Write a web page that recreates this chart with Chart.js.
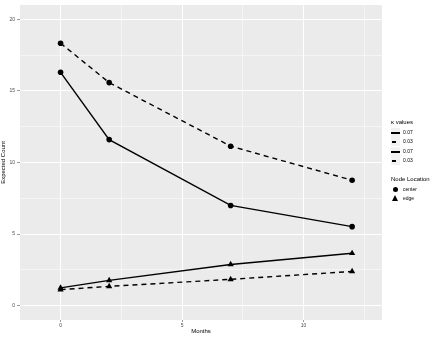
<!DOCTYPE html>
<html>
<head>
<meta charset="utf-8">
<script src="https://cdn.jsdelivr.net/npm/chart.js@4"></script>
<style>
  body { margin: 0; background: #fff; }
  #wrap { position: relative; width: 436px; height: 337px; }
  canvas { display: block; }
  .legend { position: absolute; left: 0; top: 0; width: 436px; height: 337px; font-family: "Liberation Sans", Arial, sans-serif; color: #000; }
  .ltitle { font-size: 6px; position: absolute; white-space: nowrap; }
  .item { position: absolute; font-size: 5px; color: #000; white-space: nowrap; }
  .key { position: absolute; width: 9px; height: 9px; background: #F2F2F2; }
  .key .ln { position: absolute; top: 4px; height: 1.5px; background: #000; }
</style>
</head>
<body>
<div id="wrap">
  <canvas id="chart" width="436" height="337"></canvas>
  <div class="legend" id="legend"></div>
</div>
<script>
// data
const months = [0, 2, 7, 12];
const centerK07 = [16.3, 11.6, 7.0, 5.52];
const centerK03 = [18.33, 15.58, 11.14, 8.76];
const edgeK07 = [1.24, 1.77, 2.88, 3.66];
const edgeK03 = [1.12, 1.35, 1.84, 2.39];
const kLabels = ["0.07", "0.03", "0.07", "0.03"];
const nodeLabels = ["center", "edge"];
const xTicks = [0, 2.5, 5, 7.5, 10, 12.5];
const yTicks = [0, 2.5, 5, 7.5, 10, 12.5, 15, 17.5, 20];

function pts(vals) {
  return vals.map((v, i) => ({ x: months[i], y: v }));
}

function series(vals, dashed, shape) {
  return {
    data: pts(vals),
    borderColor: "#000",
    backgroundColor: "#000",
    borderWidth: 1.4,
    borderDash: dashed ? [5, 4] : [],
    pointStyle: shape,
    pointRadius: shape === "triangle" ? 3.6 : 2.8,
    pointBorderWidth: 0,
    fill: false,
    tension: 0
  };
}

const panelBg = {
  id: "panelBg",
  beforeDraw(chart) {
    const a = chart.chartArea;
    const ctx = chart.ctx;
    ctx.save();
    ctx.fillStyle = "#EBEBEB";
    ctx.fillRect(a.left, a.top, a.right - a.left, a.bottom - a.top);
    ctx.restore();
  }
};

const isMajor = v => Math.abs(v % 5) < 1e-9;

const tickFont = { family: "Liberation Sans", size: 5 };

new Chart(document.getElementById("chart"), {
  type: "line",
  data: {
    datasets: [
      series(centerK07, false, "circle"),
      series(centerK03, true, "circle"),
      series(edgeK07, false, "triangle"),
      series(edgeK03, true, "triangle")
    ]
  },
  options: {
    responsive: false,
    animation: false,
    layout: { padding: { left: 0, top: 3, right: 54, bottom: 0 } },
    plugins: { legend: { display: false }, tooltip: { enabled: false } },
    scales: {
      x: {
        type: "linear",
        min: -1.67,
        max: 13.23,
        afterBuildTicks: s => { s.ticks = xTicks.map(v => ({ value: v })); },
        afterFit: s => { s.height = 17; },
        border: { display: false },
        grid: {
          color: "#fff",
          lineWidth: c => (c.tick && isMajor(c.tick.value)) ? 1 : 0.5,
          tickColor: c => (c.tick && isMajor(c.tick.value)) ? "#333" : "rgba(0,0,0,0)",
          tickLength: 2,
          tickWidth: 0.5
        },
        ticks: {
          autoSkip: false,
          maxRotation: 0,
          padding: 1,
          color: "#4D4D4D",
          font: tickFont,
          callback: v => isMajor(v) ? String(v) : ""
        },
        title: {
          display: true,
          text: "Months",
          color: "#000",
          font: { family: "Liberation Sans", size: 6 },
          padding: { top: 0, bottom: 2 }
        }
      },
      y: {
        type: "linear",
        min: -1.0,
        max: 21.0,
        afterBuildTicks: s => { s.ticks = yTicks.map(v => ({ value: v })); },
        afterFit: s => { s.width = 20; },
        border: { display: false },
        grid: {
          color: "#fff",
          lineWidth: c => (c.tick && isMajor(c.tick.value)) ? 1 : 0.5,
          tickColor: c => (c.tick && isMajor(c.tick.value)) ? "#333" : "rgba(0,0,0,0)",
          tickLength: 3,
          tickWidth: 0.5
        },
        ticks: {
          autoSkip: false,
          padding: 2,
          color: "#4D4D4D",
          font: tickFont,
          callback: v => isMajor(v) ? String(v) : ""
        },
        title: {
          display: true,
          text: "Expected Count",
          color: "#000",
          font: { family: "Liberation Sans", size: 6 },
          padding: { top: 0, bottom: 0 }
        }
      }
    }
  },
  plugins: [panelBg]
});

// legend built from the label arrays
const legend = document.getElementById("legend");
let html = '<div class="ltitle" style="left:391px;top:119px">\u03BA values</div>';
kLabels.forEach((lab, i) => {
  const top = Math.round(128 + i * 9.3);
  const dashed = i % 2 === 1;
  const ln = dashed
    ? '<div class="ln" style="left:1px;width:4px"></div>'
    : '<div class="ln" style="left:0;width:9px"></div>';
  html += '<div class="key" style="left:391px;top:' + top + 'px">' + ln + '</div>';
  html += '<div class="item" style="left:403px;top:' + (top + 1) + 'px">' + lab + '</div>';
});
html += '<div class="ltitle" style="left:391px;top:176px">Node Location</div>';
nodeLabels.forEach((lab, i) => {
  const top = Math.round(185 + i * 9.3);
  const mark = i === 0
    ? '<div style="position:absolute;left:2px;top:2px;width:5px;height:5px;border-radius:50%;background:#000"></div>'
    : '<div style="position:absolute;left:1px;top:1px;width:0;height:0;border-left:3.5px solid transparent;border-right:3.5px solid transparent;border-bottom:6px solid #000"></div>';
  html += '<div class="key" style="left:391px;top:' + top + 'px;background:none">' + mark + '</div>';
  html += '<div class="item" style="left:403px;top:' + (top + 1) + 'px">' + lab + '</div>';
});
legend.innerHTML = html;
</script>
</body>
</html>
